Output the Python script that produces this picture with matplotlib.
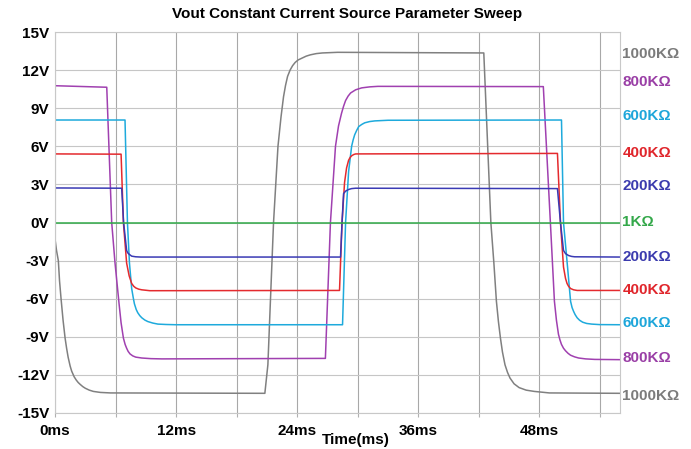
import matplotlib
matplotlib.use("Agg")
import matplotlib.pyplot as plt

plt.rcParams['font.family'] = ['Liberation Sans', 'DejaVu Sans']
plt.rcParams['font.weight'] = 'bold'

# traces: (time ms, volts)
t_1000k = [0, 0.15, 0.33, 0.45, 0.6, 0.8, 1.0, 1.15, 1.3, 1.5, 1.65, 1.9, 2.1, 2.3, 2.5, 2.75,
           3.0, 3.4, 3.8, 4.5, 5.5,
           20.8, 21.1, 21.66, 22.1, 22.4, 22.65, 22.85, 23.05, 23.3, 23.55, 23.8, 24.1, 24.5,
           24.9, 25.3, 25.9, 26.5, 28,
           42.5, 43.2, 43.5, 43.75, 43.95, 44.15, 44.35, 44.6, 44.85, 45.1, 45.5, 46.0, 46.7,
           47.5, 49, 56]
v_1000k = [-1.3, -2.2, -3.0, -4.6, -6.0, -7.7, -9.1, -9.9, -10.6, -11.3, -11.7, -12.15, -12.4,
           -12.6, -12.75, -12.92, -13.05, -13.2, -13.3, -13.38, -13.42,
           -13.45, -11.2, 0, 6.0, 8.3, 9.9, 10.8, 11.5, 12.0, 12.35, 12.6, 12.8, 12.95, 13.1,
           13.2, 13.3, 13.35, 13.4,
           13.35, 0, -3.2, -6.2, -7.8, -9.1, -10.2, -11.2, -11.8, -12.25, -12.7, -13.0, -13.2,
           -13.3, -13.42, -13.45]

t_800k = [0, 5.13, 5.62, 5.95, 6.35, 6.55, 6.78, 6.95, 7.1, 7.25, 7.44, 7.7, 8.0, 8.6, 9.5, 10.6,
          26.8, 27.3, 27.8, 28.1, 28.4, 28.6, 28.8, 29.05, 29.3, 29.8, 30.4, 31.2, 32,
          48.4, 49.1, 49.5, 49.7, 49.9, 50.05, 50.2, 50.4, 50.6, 50.85, 51.1, 51.5, 51.9, 52.6,
          53.5, 56]
v_800k = [10.77, 10.65, 0, -3.2, -6.4, -7.9, -9.1, -9.6, -9.9, -10.15, -10.35, -10.5, -10.6,
          -10.67, -10.72, -10.74,
          -10.7, 0, 6.0, 7.6, 8.6, 9.15, 9.6, 9.95, 10.2, 10.45, 10.6, 10.68, 10.72,
          10.7, 0, -6.2, -7.7, -8.8, -9.25, -9.6, -9.9, -10.1, -10.3, -10.45, -10.58, -10.67,
          -10.74, -10.78, -10.8]

t_600k = [0, 6.94, 7.18, 7.38, 7.6, 7.75, 7.87, 8.05, 8.2, 8.4, 8.6, 8.9, 9.2, 9.7, 10.2, 11, 12,
          28.5, 28.8, 29.1, 29.4, 29.55, 29.7, 29.9, 30.1, 30.4, 30.7, 31.2, 31.7, 33,
          50.2, 50.4, 50.8, 51.1, 51.25, 51.4, 51.55, 51.75, 52.0, 52.3, 52.7, 53.2, 54, 56]
v_600k = [8.07, 8.07, 0, -3.2, -5.2, -5.9, -6.4, -6.85, -7.1, -7.33, -7.5, -7.68, -7.8, -7.92,
          -8.0, -8.03, -8.05,
          -8.05, 0, 4.0, 6.0, 6.5, 6.9, 7.25, 7.55, 7.72, 7.85, 7.95, 8.0, 8.05,
          8.07, 0, -3.5, -6.2, -6.7, -7.0, -7.25, -7.5, -7.7, -7.85, -7.95, -8.0, -8.04, -8.05]

t_400k = [0, 6.55, 6.78, 7.1, 7.35, 7.6, 7.8, 8.0, 8.3, 8.6, 9.4,
          28.2, 28.45, 28.7, 28.9, 29.1, 29.25, 29.4, 29.6, 29.8,
          49.8, 50.1, 50.4, 50.6, 50.75, 50.9, 51.1, 51.4, 51.75, 56]
v_400k = [5.4, 5.38, 0, -3.2, -4.2, -4.8, -5.02, -5.15, -5.25, -5.3, -5.37,
          -5.35, 0, 3.15, 4.3, 4.9, 5.12, 5.25, 5.35, 5.4,
          5.44, 0, -3.5, -4.4, -4.8, -5.02, -5.2, -5.3, -5.35, -5.35]

t_200k = [0, 6.61, 6.8, 7.1, 7.2, 7.35, 7.6, 8.0, 8.5,
          28.3, 28.45, 28.6, 28.8, 29.1, 29.4, 29.8,
          49.8, 50.1, 50.4, 50.6, 50.9, 51.2, 51.5, 56]
v_200k = [2.72, 2.7, 0, -2.2, -2.38, -2.5, -2.65, -2.7, -2.72,
          -2.72, 0, 2.27, 2.47, 2.6, 2.67, 2.7,
          2.67, 0, -2.2, -2.45, -2.6, -2.67, -2.7, -2.72]

t_1k = [0, 56]
v_1k = [0, 0]

series = [
    ("1000KΩ", t_1000k, v_1000k, "#808080", "#7b7b7b"),
    ("800KΩ", t_800k, v_800k, "#a040b0", "#9a3fa6"),
    ("600KΩ", t_600k, v_600k, "#1eaadc", "#1ea6da"),
    ("400KΩ", t_400k, v_400k, "#e42a2e", "#e0262c"),
    ("200KΩ", t_200k, v_200k, "#3a3ab4", "#3b3bae"),
    ("1KΩ", t_1k, v_1k, "#30aa48", "#34a84a"),
]

# right hand labels, upper group and lower group
label_top = [13.3, 11.05, 8.35, 5.5, 2.9, 0]
label_bottom = [-13.65, -10.7, -7.9, -5.3, -2.7, None]

x_ticks = list(range(0, 55, 6))
x_ticklabels = ["0ms", "", "12ms", "", "24ms", "", "36ms", "", "48ms", ""]
y_ticks = list(range(-15, 16, 3))
y_ticklabels = [f"{v}V" for v in y_ticks]

fig = plt.figure(figsize=(6.91, 4.49), dpi=100)
ax = fig.add_axes([55 / 691, 1 - 413 / 449, 565 / 691, 381 / 449])

for name, t, v, c, tc in series:
    ax.plot(t, v, color=c, lw=1.1)

ax.set_xlim(0, 56)
ax.set_ylim(-15, 15)
ax.set_xticks(x_ticks)
ax.set_xticklabels(x_ticklabels, fontsize=11, fontweight='bold')
ax.set_yticks(y_ticks)
ax.set_yticklabels(y_ticklabels, fontsize=11, fontweight='bold')
ax.tick_params(axis='x', length=3, color='#b0b0b0', pad=5)
ax.tick_params(axis='y', length=0, pad=4)
ax.grid(axis='x', color='#a8a8a8', lw=0.8)
ax.grid(axis='y', color='#c6c6c6', lw=0.8)
ax.set_axisbelow(True)
for s in ax.spines.values():
    s.set_color('#c8c8c8')
    s.set_linewidth(0.8)

tr = ax.get_yaxis_transform()
for (name, t, v, c, tc), yt, yb in zip(series, label_top, label_bottom):
    ax.text(1.004, yt, name, transform=tr, color=tc, fontsize=11, fontweight='bold',
            va='center', ha='left', clip_on=False)
    if yb is not None:
        ax.text(1.004, yb, name, transform=tr, color=tc, fontsize=11, fontweight='bold',
                va='center', ha='left', clip_on=False)

fig.text(347 / 691, 1 - 14 / 449, "Vout Constant Current Source Parameter Sweep",
         ha='center', va='center', fontsize=11, fontweight='bold')
fig.text(356 / 691, 1 - 440 / 449, "Time(ms)", ha='center', va='center',
         fontsize=11, fontweight='bold')

fig.savefig("out.png", dpi=100)
